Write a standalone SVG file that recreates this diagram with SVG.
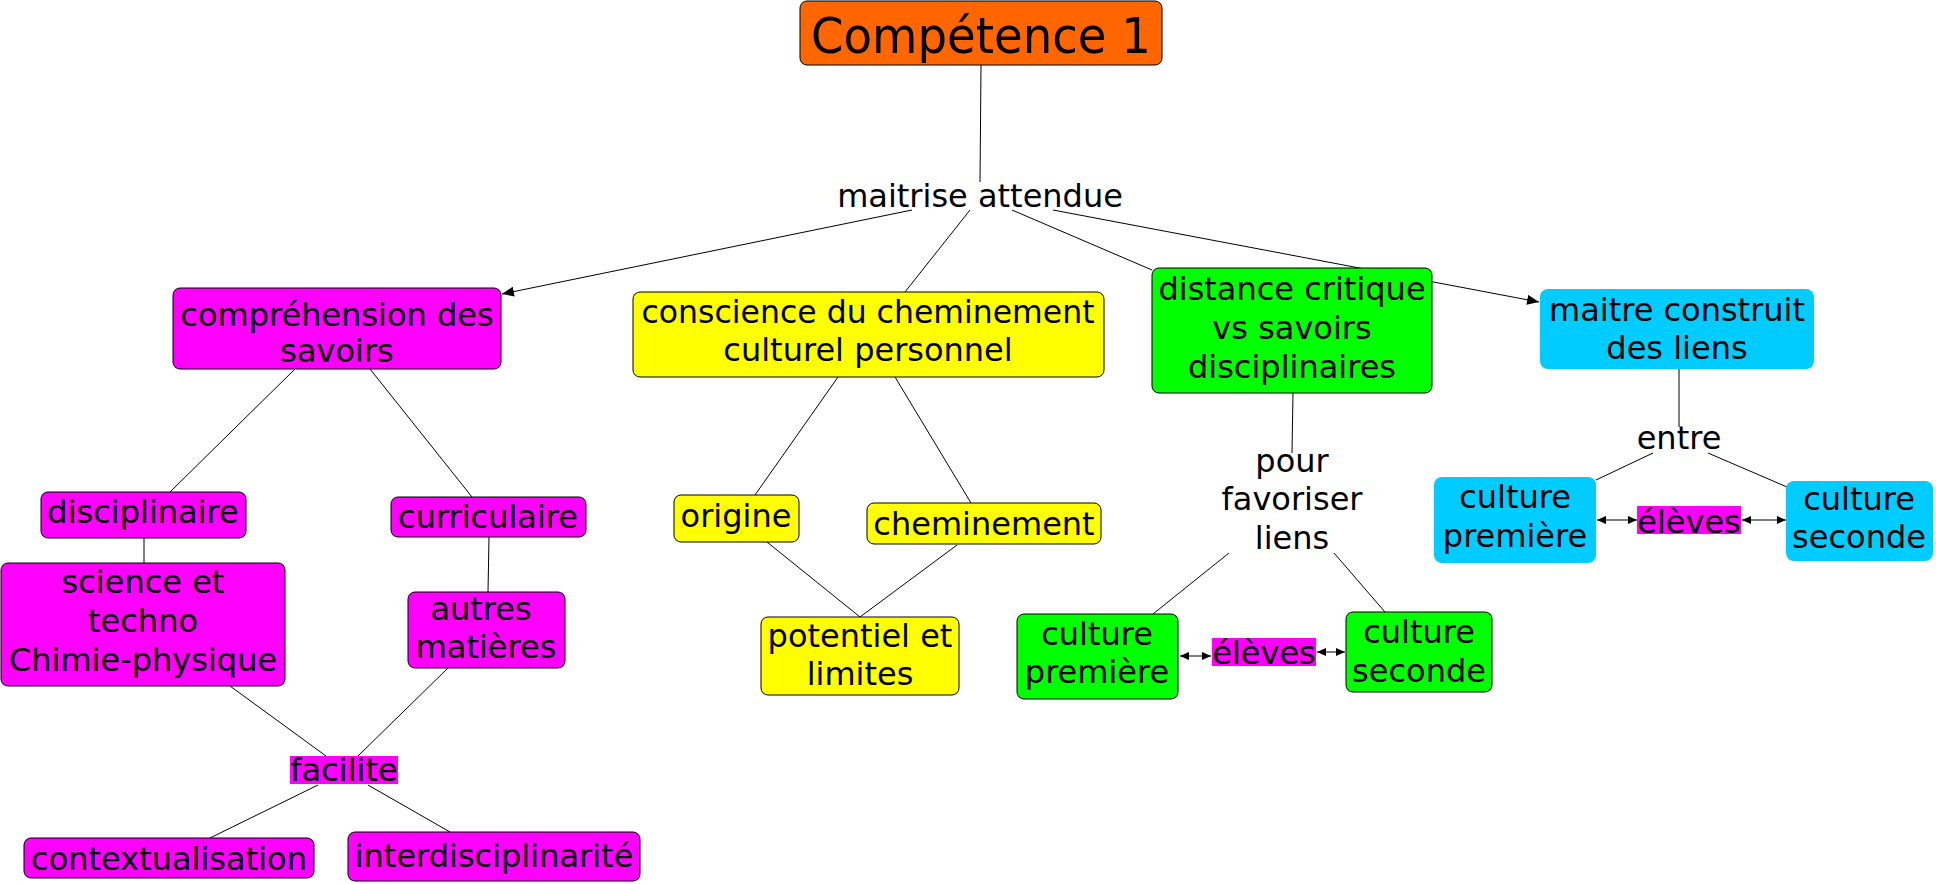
<svg xmlns="http://www.w3.org/2000/svg" width="1936" height="884" viewBox="0 0 1936 884">
<style>
  .t { font-family: "DejaVu Sans", "Liberation Sans", sans-serif; font-size: 32px; fill: #000; text-anchor: middle; }
  .big { font-size: 50px; }
  .box { stroke: #000; stroke-width: 1; }
  .orange { fill: #FF6600; }
  .pink { fill: #FF00FF; }
  .yellow { fill: #FFFF00; }
  .green { fill: #00FF00; }
  .blue { fill: #00CCFF; }
  .lbl { fill: #FF00FF; }
  .conn line { stroke: #000; stroke-width: 1; fill: none; }
</style>
<defs>
  <marker id="arr" viewBox="0 0 12 10" refX="12" refY="5" markerWidth="12" markerHeight="10" markerUnits="userSpaceOnUse" orient="auto-start-reverse">
    <path d="M0,0 L12,5 L0,10 z" fill="#000"/>
  </marker>
  <marker id="sarr" viewBox="0 0 9 8" refX="9" refY="4" markerWidth="9" markerHeight="8" markerUnits="userSpaceOnUse" orient="auto-start-reverse">
    <path d="M0,0 L9,4 L0,8 z" fill="#000"/>
  </marker>
</defs>
<rect width="1936" height="884" fill="#fff"/>
<g id="connectors" class="conn">
  <line x1="981" y1="65" x2="980" y2="182"/>
  <line x1="912" y1="210" x2="502" y2="294" marker-end="url(#arr)"/>
  <line x1="970" y1="210" x2="905" y2="292"/>
  <line x1="1012" y1="210" x2="1152" y2="270"/>
  <line x1="1053" y1="210" x2="1539" y2="302" marker-end="url(#arr)"/>
  <line x1="295" y1="369" x2="170" y2="492"/>
  <line x1="370" y1="369" x2="472" y2="497"/>
  <line x1="144" y1="538" x2="144" y2="563"/>
  <line x1="489" y1="537" x2="488" y2="592"/>
  <line x1="230" y1="686" x2="326" y2="756"/>
  <line x1="448" y1="668" x2="358" y2="756"/>
  <line x1="318" y1="785" x2="210" y2="838"/>
  <line x1="368" y1="785" x2="450" y2="832"/>
  <line x1="838" y1="377" x2="755" y2="495"/>
  <line x1="895" y1="377" x2="971" y2="503"/>
  <line x1="767" y1="542" x2="860" y2="617"/>
  <line x1="957" y1="545" x2="860" y2="617"/>
  <line x1="1293" y1="393" x2="1292" y2="453"/>
  <line x1="1229" y1="553" x2="1153" y2="614"/>
  <line x1="1334" y1="553" x2="1385" y2="612"/>
  <line x1="1180" y1="656" x2="1211" y2="656" marker-start="url(#sarr)" marker-end="url(#sarr)"/>
  <line x1="1317" y1="652" x2="1345" y2="652" marker-start="url(#sarr)" marker-end="url(#sarr)"/>
  <line x1="1679" y1="369" x2="1679" y2="427"/>
  <line x1="1653" y1="453" x2="1596" y2="480"/>
  <line x1="1708" y1="453" x2="1787" y2="487"/>
  <line x1="1597" y1="520" x2="1637" y2="520" marker-start="url(#sarr)" marker-end="url(#sarr)"/>
  <line x1="1742" y1="520" x2="1786" y2="520" marker-start="url(#sarr)" marker-end="url(#sarr)"/>
</g>
<g id="competence1">
  <rect class="box orange" x="800" y="1" width="362" height="64" rx="7"/>
  <text class="t big" x="981" y="53" textLength="340" lengthAdjust="spacingAndGlyphs">Compétence 1</text>
</g>
<g id="maitrise-attendue">
  <text class="t" x="980" y="207">maitrise attendue</text>
</g>
<g id="comprehension">
  <rect class="box pink" x="173" y="288" width="328" height="81" rx="7"/>
  <text class="t" x="337" y="326">compréhension des</text>
  <text class="t" x="337" y="362">savoirs</text>
</g>
<g id="conscience">
  <rect class="box yellow" x="633" y="292" width="471" height="85" rx="7"/>
  <text class="t" x="868" y="323" textLength="453" lengthAdjust="spacingAndGlyphs">conscience du cheminement</text>
  <text class="t" x="868" y="361">culturel personnel</text>
</g>
<g id="distance">
  <rect class="box green" x="1152" y="268" width="280" height="125" rx="7"/>
  <text class="t" x="1292" y="300">distance critique</text>
  <text class="t" x="1292" y="339">vs savoirs</text>
  <text class="t" x="1292" y="378">disciplinaires</text>
</g>
<g id="maitre">
  <rect class="blue" x="1540" y="289" width="274" height="80" rx="8"/>
  <text class="t" x="1677" y="321">maitre construit</text>
  <text class="t" x="1677" y="359">des liens</text>
</g>
<g id="disciplinaire">
  <rect class="box pink" x="41" y="492" width="205" height="46" rx="7"/>
  <text class="t" x="143" y="523">disciplinaire</text>
</g>
<g id="curriculaire">
  <rect class="box pink" x="391" y="497" width="195" height="40" rx="7"/>
  <text class="t" x="488" y="528">curriculaire</text>
</g>
<g id="science">
  <rect class="box pink" x="1" y="563" width="284" height="123" rx="7"/>
  <text class="t" x="143" y="593">science et</text>
  <text class="t" x="143" y="632">techno</text>
  <text class="t" x="143" y="671">Chimie-physique</text>
</g>
<g id="autres">
  <rect class="box pink" x="408" y="592" width="157" height="76" rx="7"/>
  <text class="t" x="481" y="620">autres</text>
  <text class="t" x="486" y="658">matières</text>
</g>
<g id="facilite">
  <rect class="lbl" x="290" y="756" width="108" height="28"/>
  <text class="t" x="344" y="781">facilite</text>
</g>
<g id="contextualisation">
  <rect class="box pink" x="24" y="838" width="290" height="40" rx="7"/>
  <text class="t" x="169" y="870">contextualisation</text>
</g>
<g id="interdisciplinarite">
  <rect class="box pink" x="348" y="832" width="292" height="49" rx="7"/>
  <text class="t" x="494" y="867">interdisciplinarité</text>
</g>
<g id="origine">
  <rect class="box yellow" x="674" y="495" width="125" height="47" rx="7"/>
  <text class="t" x="736" y="527">origine</text>
</g>
<g id="cheminement">
  <rect class="box yellow" x="867" y="503" width="234" height="41" rx="7"/>
  <text class="t" x="984" y="535">cheminement</text>
</g>
<g id="potentiel">
  <rect class="box yellow" x="761" y="617" width="198" height="78" rx="7"/>
  <text class="t" x="860" y="647">potentiel et</text>
  <text class="t" x="860" y="685">limites</text>
</g>
<g id="pour-favoriser-liens">
  <text class="t" x="1292" y="472">pour</text>
  <text class="t" x="1292" y="510">favoriser</text>
  <text class="t" x="1292" y="549">liens</text>
</g>
<g id="green-culture-premiere">
  <rect class="box green" x="1017" y="614" width="161" height="85" rx="7"/>
  <text class="t" x="1097" y="645">culture</text>
  <text class="t" x="1097" y="683">première</text>
</g>
<g id="green-eleves">
  <rect class="lbl" x="1212" y="638" width="104" height="28"/>
  <text class="t" x="1264" y="664">élèves</text>
</g>
<g id="green-culture-seconde">
  <rect class="box green" x="1346" y="612" width="146" height="80" rx="7"/>
  <text class="t" x="1419" y="643">culture</text>
  <text class="t" x="1419" y="682">seconde</text>
</g>
<g id="entre">
  <text class="t" x="1679" y="449">entre</text>
</g>
<g id="blue-culture-premiere">
  <rect class="blue" x="1434" y="477" width="162" height="86" rx="8"/>
  <text class="t" x="1515" y="508">culture</text>
  <text class="t" x="1515" y="547">première</text>
</g>
<g id="blue-eleves">
  <rect class="lbl" x="1637" y="506" width="104" height="28"/>
  <text class="t" x="1689" y="533">élèves</text>
</g>
<g id="blue-culture-seconde">
  <rect class="blue" x="1786" y="481" width="147" height="80" rx="8"/>
  <text class="t" x="1859" y="510">culture</text>
  <text class="t" x="1859" y="548">seconde</text>
</g>
</svg>
